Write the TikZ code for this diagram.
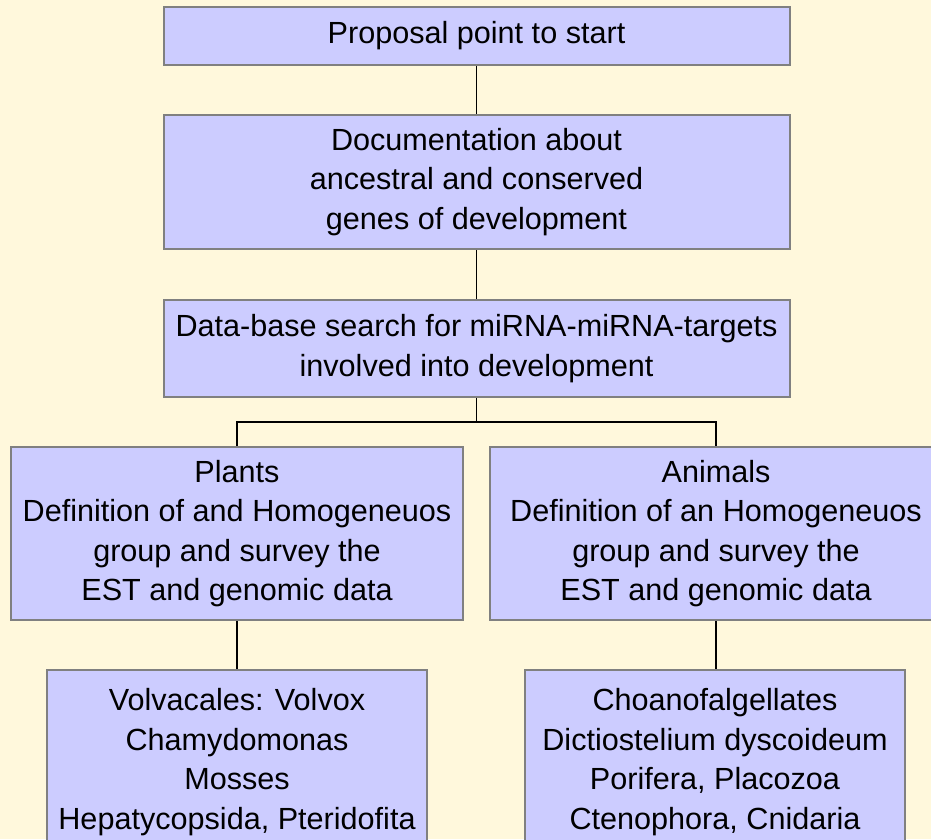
\documentclass[tikz,border=0pt]{standalone}
\usepackage{fontspec}
\setmainfont{Liberation Sans}
\definecolor{bgc}{HTML}{FFF8DC}
\definecolor{boxc}{HTML}{CCCCFF}
\definecolor{edgec}{HTML}{808080}
\tikzset{
  box/.style={draw=edgec, line width=2pt, fill=boxc, rectangle, align=center, inner sep=0pt,
    font=\fontsize{30.6}{39.5}\selectfont},
  conn/.style={draw=black, line width=1.6pt}
}
\begin{document}
\begin{tikzpicture}[x=1pt,y=-1pt]
\useasboundingbox (0,0) rectangle (931,839);
\fill[bgc] (0,0) rectangle (931,839);
\clip (0,0) rectangle (931,839);
\node[box, minimum width=626pt, minimum height=58pt] (p) at (476.5,36) {Proposal point to start};
\node[box, minimum width=626pt, minimum height=134pt] (d) at (476.5,182) {Documentation about\\ancestral and conserved\\genes of development};
\node[box, minimum width=626pt, minimum height=97pt] (db) at (476.5,348.5) {Data-base search for miRNA-miRNA-targets\\involved into development};
\node[box, minimum width=452pt, minimum height=173pt] (pl) at (237,533.5) {Plants\\Definition of and Homogeneuos\\group and survey the\\EST and genomic data};
\node[box, minimum width=452pt, minimum height=173pt] (an) at (716,533.5) {Animals\\Definition of an Homogeneuos\\group and survey the\\EST and genomic data};
\node[box, minimum width=380pt, minimum height=184pt] (vo) at (237,762) {Volvacales: Volvox\\Chamydomonas\\Mosses\\Hepatycopsida, Pteridofita};
\node[box, minimum width=380pt, minimum height=184pt] (ch) at (715,762) {Choanofalgellates\\Dictiostelium dyscoideum\\Porifera, Placozoa\\Ctenophora, Cnidaria};
\coordinate (bus) at (476.5,421.7);
\draw[conn] (p.south) -- (d.north);
\draw[conn] (d.south) -- (db.north);
\draw[conn] (db.south) -- (bus);
\draw[conn] (bus) -| (pl.north);
\draw[conn] (bus) -| (an.north);
\draw[conn] (pl.south) -- (vo.north);
\draw[conn] (an.south) -- (an.south |- ch.north);
\end{tikzpicture}
\end{document}
